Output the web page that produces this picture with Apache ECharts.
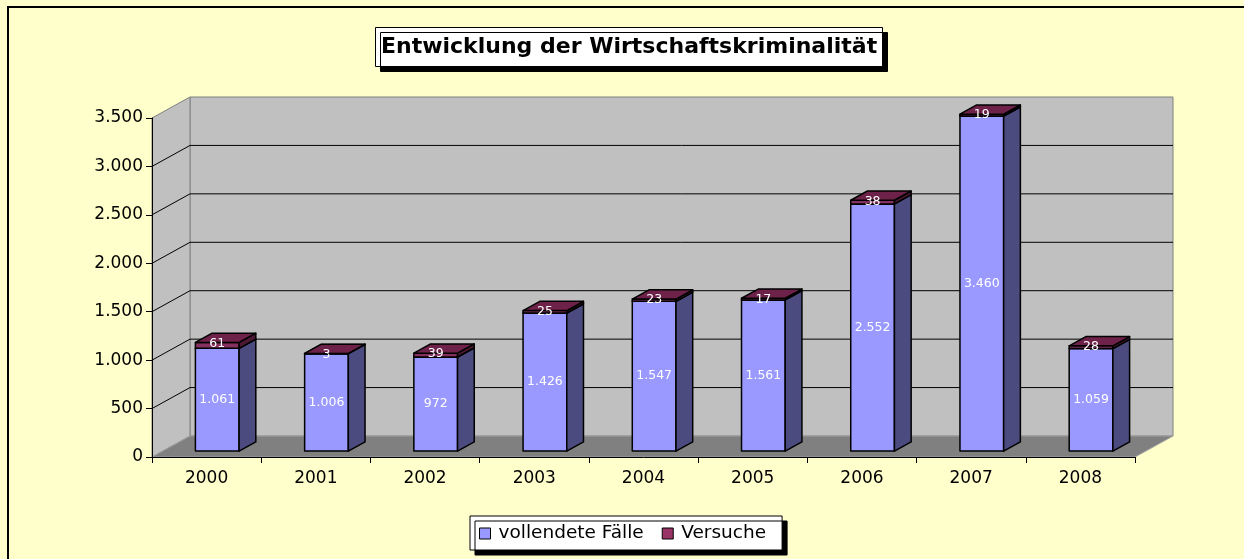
<!DOCTYPE html>
<html>
<head>
<meta charset="utf-8">
<script src="https://cdn.jsdelivr.net/npm/echarts@6/dist/echarts.min.js"></script>
<style>
html, body { margin: 0; padding: 0; background: #FFFFCC; }
#chart { width: 1244px; height: 559px; }
</style>
</head>
<body>
<div id="chart"></div>
<script>
var years = ['2000', '2001', '2002', '2003', '2004', '2005', '2006', '2007', '2008'];
var completed = [1061, 1006, 972, 1426, 1547, 1561, 2552, 3460, 1059];
var attempts = [61, 3, 39, 25, 23, 17, 38, 19, 28];
var yTicks = [0, 500, 1000, 1500, 2000, 2500, 3000, 3500];

// depth of the 3d box (pixels, back wall offset)
var DX = 38, DY = -21;

function fmt(n) {
    return String(n).replace(/\B(?=(\d{3})+(?!\d))/g, '.');
}

var myChart = echarts.init(document.getElementById('chart'));

function wallsItem(params, api) {
    var cs = params.coordSys;
    var x0 = cs.x, x1 = cs.x + cs.width;
    var yb = api.coord([0, 0])[1];
    var yt = api.coord([0, yTicks[yTicks.length - 1]])[1];
    var ch = [];
    // back wall
    ch.push({type: 'rect', shape: {x: x0 + DX, y: yt + DY, width: x1 - x0, height: yb - yt},
        style: {fill: '#C0C0C0', stroke: '#808080', lineWidth: 1}});
    // side wall
    ch.push({type: 'polygon', shape: {points: [[x0, yb], [x0 + DX, yb + DY], [x0 + DX, yt + DY], [x0, yt]]},
        style: {fill: '#C0C0C0', stroke: '#808080', lineWidth: 1}});
    // floor
    ch.push({type: 'polygon', shape: {points: [[x0, yb], [x1, yb], [x1 + DX, yb + DY], [x0 + DX, yb + DY]]},
        style: {fill: '#808080', stroke: '#A0A0A0', lineWidth: 1}});
    // gridlines
    for (var k = 1; k < yTicks.length - 1; k++) {
        var y = api.coord([0, yTicks[k]])[1];
        ch.push({type: 'polyline', shape: {points: [[x0, y], [x0 + DX, y + DY], [x1 + DX, y + DY]]},
            style: {stroke: '#000', lineWidth: 1, fill: null}});
    }
    return {type: 'group', children: ch};
}

function boxItem(cols, labelPos) {
    return function (params, api) {
        var i = api.value(0);
        var p0 = api.coord([i, api.value(1)]);
        var p1 = api.coord([i, api.value(2)]);
        var hw = api.size([1, 0])[0] * 0.2;
        var fx = p0[0] + DX * 0.28;
        var fy0 = p0[1] + DY * 0.28, fy1 = p1[1] + DY * 0.28;
        var l = fx - hw, r = fx + hw;
        var dx = DX * 0.44, dy = DY * 0.44;
        var st = {stroke: '#000', lineWidth: 1.5, lineJoin: 'round'};
        var ch = [
            {type: 'polygon', shape: {points: [[l, fy1], [r, fy1], [r, fy0], [l, fy0]]},
                style: echarts.util.extend({fill: cols[0]}, st)},
            {type: 'polygon', shape: {points: [[r, fy1], [r + dx, fy1 + dy], [r + dx, fy0 + dy], [r, fy0]]},
                style: echarts.util.extend({fill: cols[1]}, st)},
            {type: 'polygon', shape: {points: [[l, fy1], [l + dx, fy1 + dy], [r + dx, fy1 + dy], [r, fy1]]},
                style: echarts.util.extend({fill: cols[2]}, st)}
        ];
        var ty = labelPos === 'mid' ? (fy0 + fy1) / 2 : fy1 + 1;
        ch.push({type: 'text', z2: 10, style: {
            x: fx, y: ty, text: fmt(api.value(3)), fill: '#fff',
            font: '12.5px "DejaVu Sans", sans-serif', align: 'center', verticalAlign: 'middle'
        }});
        return {type: 'group', children: ch};
    };
}

var dataCompleted = [], dataAttempts = [];
for (var i = 0; i < years.length; i++) {
    dataCompleted.push([i, 0, completed[i], completed[i]]);
    dataAttempts.push([i, completed[i], completed[i] + attempts[i], attempts[i]]);
}

var font = '"DejaVu Sans", sans-serif';

option = {
    backgroundColor: '#FFFFCC',
    animation: false,
    title: {
        text: 'Entwicklung der Wirtschaftskriminalität',
        left: 375,
        top: 27,
        padding: [8, 6],
        backgroundColor: '#fff',
        borderColor: '#000',
        borderWidth: 1,
        shadowColor: '#000',
        shadowOffsetX: 5,
        shadowOffsetY: 5,
        shadowBlur: 0,
        textStyle: {fontFamily: font, fontSize: 22, lineHeight: 24, fontWeight: 'bold', color: '#000'}
    },
    legend: {
        left: 470,
        top: 516,
        padding: [8, 16, 7, 9],
        itemGap: 18,
        itemWidth: 11,
        itemHeight: 11,
        icon: 'rect',
        backgroundColor: '#fff',
        borderColor: '#000',
        borderWidth: 1,
        shadowColor: '#000',
        shadowOffsetX: 5,
        shadowOffsetY: 5,
        shadowBlur: 0,
        itemStyle: {borderColor: '#000', borderWidth: 1},
        textStyle: {fontFamily: font, fontSize: 18.5, lineHeight: 19, color: '#000', padding: [0, 0, 0, 3]},
        data: ['vollendete Fälle', 'Versuche']
    },
    graphic: [{
        type: 'rect', z: 100, silent: true,
        shape: {x: 8, y: 7, width: 1260, height: 580},
        style: {fill: null, stroke: '#000', lineWidth: 2}
    }],
    grid: {left: 152, right: 109, top: 118, bottom: 102},
    xAxis: {
        type: 'category',
        data: years,
        z: 10,
        axisLine: {lineStyle: {color: '#000', width: 1}},
        axisTick: {show: true, length: 6, lineStyle: {color: '#000'}},
        axisLabel: {fontFamily: font, fontSize: 17, color: '#000', margin: 13}
    },
    yAxis: {
        type: 'value',
        min: 0,
        max: 3500,
        interval: 500,
        z: 10,
        splitLine: {show: false},
        axisLine: {show: true, lineStyle: {color: '#000', width: 1}},
        axisTick: {show: true, length: 6, lineStyle: {color: '#000'}},
        axisLabel: {fontFamily: font, fontSize: 17, color: '#000', margin: 9, formatter: function (v) { return fmt(v); }}
    },
    series: [{
        type: 'custom',
        name: 'walls',
        silent: true,
        z: 1,
        renderItem: wallsItem,
        data: [[0]]
    }, {
        type: 'custom',
        name: 'vollendete Fälle',
        z: 2,
        itemStyle: {color: '#9999FF'},
        renderItem: boxItem(['#9999FF', '#4B4B7F', '#7A7ACC'], 'mid'),
        encode: {x: 0, y: 2},
        data: dataCompleted
    }, {
        type: 'custom',
        name: 'Versuche',
        z: 3,
        itemStyle: {color: '#993366'},
        renderItem: boxItem(['#85305E', '#4D1833', '#6E2249'], 'top'),
        encode: {x: 0, y: 2},
        data: dataAttempts
    }]
};
myChart.setOption(option);
</script>
</body>
</html>
